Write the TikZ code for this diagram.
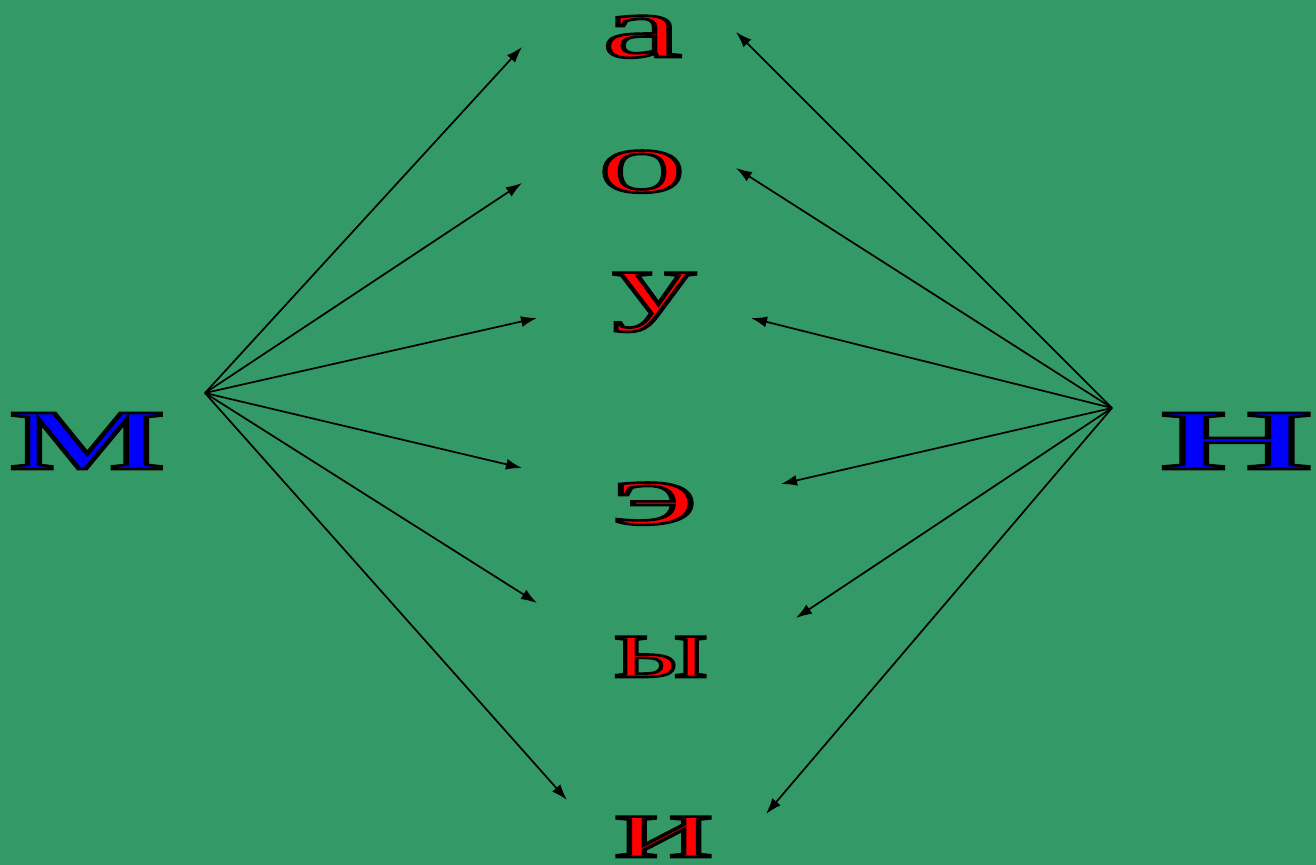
\documentclass[tikz,border=0pt]{standalone}
\usepackage{fontspec}
\setmainfont{Liberation Serif}
\usetikzlibrary{arrows.meta}
\definecolor{board}{RGB}{51,153,102}
\newcommand{\outl}[2][1.6]{\scalebox{#1}[1]{\special{pdf:literal 2 Tr 0 0 0 RG 1.3 w}#2\special{pdf:literal 0 Tr}}}

\begin{document}
\begin{tikzpicture}[
    x=0.5pt,y=-0.5pt,
    cons/.style={inner sep=0pt,anchor=base,text=blue,font=\fontsize{61}{61}\selectfont},
    vow/.style={inner sep=0pt,anchor=base,text=red,font=\fontsize{44}{44}\selectfont},
    arrow/.style={-{Latex[length=8pt,width=5.5pt]},line width=0.85pt}
]
\fill[board] (0,0) rectangle (1316,865);
\useasboundingbox (0,0) rectangle (1316,865);

% consonants
\node[cons] (m) at (87,469)   {\outl[2.05]{м}};
\node[cons] (n) at (1237,469) {\outl[2.37]{н}};
\coordinate (hm) at (205,393);
\coordinate (hn) at (1112,408);

% vowels
\node[vow] (a) at (642,57)  {\outl[2.04]{а}};
\node[vow] (o) at (642,192) {\outl[1.99]{о}};
\node[vow] (u) at (654,313) {\outl[1.89]{у}};
\node[vow] (e) at (655,524) {\outl[2.3]{э}};
\node[vow] (y) at (661,677) {\outl[1.58]{ы}};
\node[vow] (i) at (664,857) {\outl[2.09]{и}};

% arrow ends
\coordinate (ma) at (522,47);  \coordinate (na) at (736,32);
\coordinate (mo) at (522,183); \coordinate (no) at (736,168);
\coordinate (mu) at (537,318); \coordinate (nu) at (751,318);
\coordinate (me) at (522,468); \coordinate (ne) at (781,484);
\coordinate (my) at (537,603); \coordinate (ny) at (796,618);
\coordinate (mi) at (567,800); \coordinate (ni) at (766,814);

\foreach \v in {a,o,u,e,y,i} {
    \draw[arrow] (hm) -- (m\v);
    \draw[arrow] (hn) -- (n\v);
}
\end{tikzpicture}
\end{document}
